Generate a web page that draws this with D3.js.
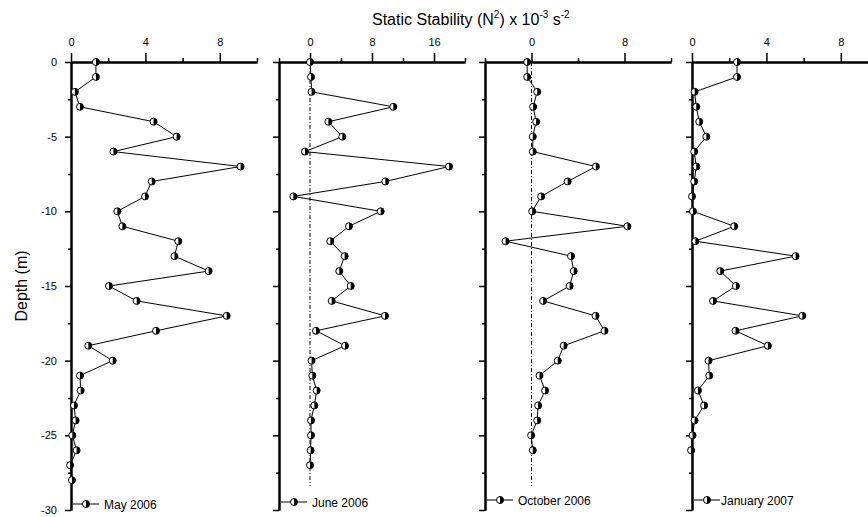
<!DOCTYPE html>
<html>
<head>
<meta charset="utf-8">
<script src="https://cdn.jsdelivr.net/npm/d3@7"></script>
<style>
  body { margin: 0; background: #fff; }
  text { font-family: "Liberation Sans", Arial, sans-serif; fill: #000; }
</style>
</head>
<body>
<svg width="868" height="517"></svg>
<script>
// depth of each sample (m)
var depths = [0, -1, -2, -3, -4, -5, -6, -7, -8, -9, -10, -11, -12, -13, -14,
  -15, -16, -17, -18, -19, -20, -21, -22, -23, -24, -25, -26, -27, -28];

// N^2 x 10^-3 s^-2, one value per depth
var may2006 = [1.34, 1.34, 0.21, 0.48, 4.44, 5.68, 2.28, 9.12, 4.34, 3.98, 2.49, 2.76,
  5.77, 5.56, 7.40, 2.04, 3.53, 8.37, 4.57, 0.93, 2.24, 0.48, 0.52, 0.16, 0.25, 0.07,
  0.30, -0.05, 0.05];
var june2006 = [0.0, 0.13, 0.2, 10.75, 2.37, 4.17, -0.65, 17.94, 9.72, -2.15, 9.12, 5.03,
  2.62, 4.47, 3.78, 5.25, 2.8, 9.68, 0.77, 4.52, 0.2, 0.3, 0.86, 0.56, 0.13, 0.13,
  0.08, 0.0];
var oct2006 = [-0.37, -0.37, 0.49, 0.14, 0.4, 0.11, 0.11, 5.54, 3.11, 0.83, 0.06, 8.25,
  -2.23, 3.4, 3.63, 3.28, 1.0, 5.51, 6.28, 2.77, 2.26, 0.69, 1.17, 0.57, 0.49, -0.03,
  0.11];
var jan2007 = [2.42, 2.42, 0.14, 0.23, 0.39, 0.77, 0.12, 0.23, 0.12, 0.0, 0.05, 2.27,
  0.18, 5.57, 1.52, 2.36, 1.13, 5.93, 2.34, 4.08, 0.89, 0.93, 0.32, 0.65, 0.14, 0.03,
  -0.05];

var labels = ['May 2006', 'June 2006', 'October 2006', 'January 2007'];
var domains = [[0, 10], [-4, 20], [-4, 12], [0, 10]];
var majorTicks = [[0, 4, 8], [0, 8, 16], [0, 8], [0, 4, 8]];
var minorTicks = [[2, 6, 10], [-4, 4, 12, 20], [-4, 4, 12], [2, 6, 10]];
var depthMajor = [0, -5, -10, -15, -20, -25, -30];
var depthMinor = [-2.5, -7.5, -12.5, -17.5, -22.5, -27.5];

var svg = d3.select('svg');
var panelW = 186;
var left = [71, 279, 485, 692];
var legendY = [504, 502, 500, 500];
var series = [may2006, june2006, oct2006, jan2007];

var y = d3.scaleLinear().domain([0, -30]).range([62, 510]);

// half filled marker
var halfArc = d3.arc().innerRadius(0).outerRadius(3.5).startAngle(0).endAngle(Math.PI);

function marker(g, cx, cy) {
  g.append('circle')
    .attr('cx', cx).attr('cy', cy).attr('r', 3.5)
    .attr('fill', '#fff').attr('stroke', '#000').attr('stroke-width', 1);
  g.append('path')
    .attr('d', halfArc())
    .attr('transform', 'translate(' + cx + ',' + cy + ')')
    .attr('fill', '#000');
}

function styleAxis(g) {
  g.select('.domain').attr('stroke-width', 2);
  g.selectAll('.tick line').attr('stroke-width', 1.5);
  g.selectAll('.tick text').attr('font-size', 11);
}

series.forEach(function (vals, i) {
  var x = d3.scaleLinear().domain(domains[i]).range([left[i], left[i] + panelW]);
  var g = svg.append('g');

  // left depth axis
  var yMinor = g.append('g')
    .attr('transform', 'translate(' + left[i] + ',0)')
    .call(d3.axisLeft(y).tickValues(depthMinor).tickSize(3).tickSizeOuter(0).tickFormat(''));
  styleAxis(yMinor);
  var yMajor = g.append('g')
    .attr('transform', 'translate(' + left[i] + ',0)')
    .call(d3.axisLeft(y).tickValues(depthMajor).tickSize(6).tickSizeOuter(0).tickPadding(8)
      .tickFormat(i === 0 ? function (d) { return String(d); } : ''));
  styleAxis(yMajor);

  // top N^2 axis
  var xMinor = g.append('g')
    .attr('transform', 'translate(0,' + y(0) + ')')
    .call(d3.axisTop(x).tickValues(minorTicks[i]).tickSize(4).tickSizeOuter(0).tickFormat(''));
  styleAxis(xMinor);
  var xMajor = g.append('g')
    .attr('transform', 'translate(0,' + y(0) + ')')
    .call(d3.axisTop(x).tickValues(majorTicks[i]).tickSize(9).tickSizeOuter(0).tickPadding(7)
      .tickFormat(function (d) { return String(d); }));
  styleAxis(xMajor);

  // zero reference line
  if (i === 1 || i === 2) {
    g.append('line')
      .attr('x1', x(0)).attr('x2', x(0))
      .attr('y1', y(0)).attr('y2', y(-28.4))
      .attr('stroke', '#000').attr('stroke-width', 1)
      .attr('stroke-dasharray', '4,2,1,2');
  }

  // profile
  var pts = vals.map(function (v, k) { return {v: v, d: depths[k]}; });
  var line = d3.line().x(function (d) { return x(d.v); }).y(function (d) { return y(d.d); });
  g.append('path')
    .datum(pts)
    .attr('d', line)
    .attr('fill', 'none')
    .attr('stroke', '#000')
    .attr('stroke-width', 1);

  var mk = g.append('g');
  pts.forEach(function (p) { marker(mk, x(p.v), y(p.d)); });

  // legend
  var lx = left[i] + 2, ly = legendY[i];
  g.append('line')
    .attr('x1', lx).attr('x2', lx + 26).attr('y1', ly).attr('y2', ly)
    .attr('stroke', '#000').attr('stroke-width', 1);
  marker(g, lx + 13, ly);
  g.append('text')
    .attr('x', lx + (i === 3 ? 27 : 31)).attr('y', ly + 4.5)
    .attr('font-size', 12)
    .text(labels[i]);
});

// title
var title = svg.append('text').attr('x', 372).attr('y', 25).attr('font-size', 16);
title.append('tspan').text('Static Stability (N');
title.append('tspan').attr('font-size', 10).attr('dy', -7).text('2');
title.append('tspan').attr('dy', 7).text(') x 10');
title.append('tspan').attr('font-size', 10).attr('dy', -7).text('-3');
title.append('tspan').attr('dy', 7).text(' s');
title.append('tspan').attr('font-size', 10).attr('dy', -7).text('-2');

// y label
svg.append('text')
  .attr('transform', 'translate(27,' + y(-15) + ') rotate(-90)')
  .attr('text-anchor', 'middle')
  .attr('font-size', 16)
  .text('Depth (m)');
</script>
</body>
</html>
